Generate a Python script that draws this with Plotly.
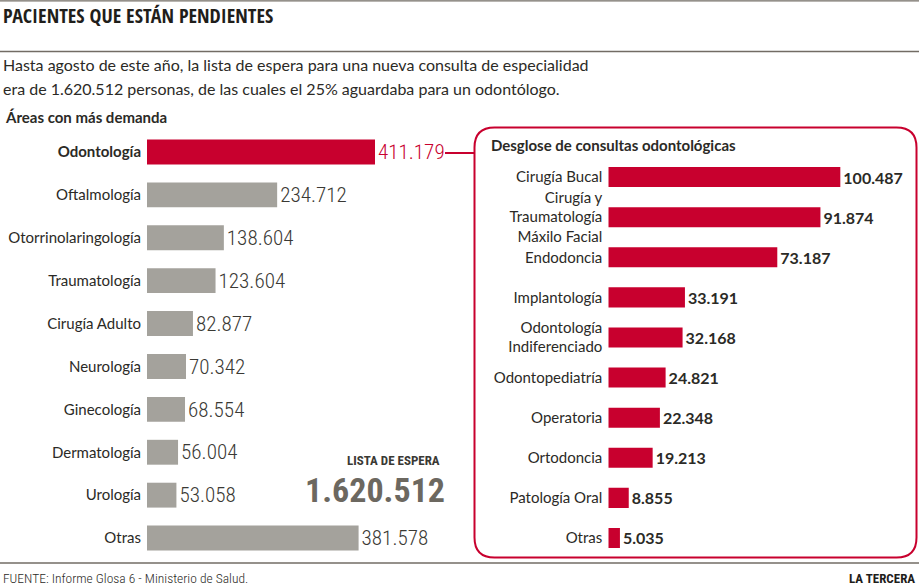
import plotly.graph_objects as go

# ---------------- data ----------------
areas = ["Odontología", "Oftalmología", "Otorrinolaringología", "Traumatología",
         "Cirugía Adulto", "Neurología", "Ginecología", "Dermatología", "Urología", "Otras"]
areas_values = [411179, 234712, 138604, 123604, 82877, 70342, 68554, 56004, 53058, 381578]

odonto_cats = ["Cirugía Bucal", "Cirugía y<br>Traumatología<br>Máxilo Facial", "Endodoncia",
               "Implantología", "Odontología<br>Indiferenciado", "Odontopediatría",
               "Operatoria", "Ortodoncia", "Patología Oral", "Otras"]
odonto_values = [100487, 91874, 73187, 33191, 32168, 24821, 22348, 19213, 8855, 5035]

total_espera = 1620512

# ---------------- style ----------------
W, H = 919, 587
RED = "#c8002e"
GRAY = "#a4a29c"
DARK = "#2b2a26"
LINE = "#726c64"
FONT = "Lato"
COND = "Roboto Condensed"


def fmt(v):
    return f"{v:,}".replace(",", ".")


def px(x):
    return x / W


def py(y):
    return 1 - y / H


fig = go.Figure()

left_colors = [RED] + [GRAY] * (len(areas) - 1)
left_text_colors = [RED] + ["#3a3934"] * (len(areas) - 1)
tick_left = [f"<b>{a}</b>" if i == 0 else a for i, a in enumerate(areas)]

fig.add_trace(go.Bar(
    y=list(range(len(areas))), x=areas_values, orientation="h",
    marker=dict(color=left_colors, line=dict(width=0)), width=0.58,
    text=[fmt(v) for v in areas_values], textposition="outside",
    textfont=dict(family=COND, size=28, color=left_text_colors, weight=300),
    cliponaxis=False, xaxis="x", yaxis="y", hoverinfo="skip",
))

fig.add_trace(go.Bar(
    y=list(range(len(odonto_cats))), x=odonto_values, orientation="h",
    marker=dict(color=RED, line=dict(width=0)), width=0.5,
    text=[fmt(v) for v in odonto_values], textposition="outside",
    textfont=dict(family=FONT, size=16, color=DARK, weight="bold"),
    cliponaxis=False, xaxis="x2", yaxis="y2", hoverinfo="skip",
))

fig.update_layout(
    width=W, height=H, margin=dict(l=0, r=0, t=0, b=0),
    paper_bgcolor="white", plot_bgcolor="rgba(0,0,0,0)",
    showlegend=False,
    font=dict(family=FONT, color=DARK),
    xaxis=dict(domain=[px(147), px(465)], range=[0, (465 - 147) / 0.0005545],
               visible=False, fixedrange=True),
    yaxis=dict(domain=[py(559.5), py(130.5)], range=[9.5, -0.5],
               tickvals=list(range(len(areas))), ticktext=tick_left,
               showgrid=False, zeroline=False, showline=False, ticks="",
               ticklabelstandoff=5, fixedrange=True,
               tickfont=dict(family=FONT, size=15, color=DARK)),
    xaxis2=dict(domain=[px(608.3), px(915)], range=[0, (915 - 608.3) / 0.002309],
                visible=False, anchor="y2", fixedrange=True),
    yaxis2=dict(domain=[py(558), py(157)], range=[9.5, -0.5], anchor="x2",
                tickvals=list(range(len(odonto_cats))), ticktext=odonto_cats,
                showgrid=False, zeroline=False, showline=False, ticks="",
                ticklabelstandoff=5, fixedrange=True,
                tickfont=dict(family=FONT, size=15, color=DARK)),
)

# ---------------- shapes ----------------
shapes = []
for yy in [0.8, 51.5, 563]:
    shapes.append(dict(type="line", xref="paper", yref="paper",
                       x0=0, x1=1, y0=py(yy), y1=py(yy),
                       line=dict(color=LINE, width=1.3)))

# rounded panel
x0, x1, y0, y1, r = 474.5, 916.5, 127.5, 557.5, 20
rx, ry = r / W, r / H
X0, X1, Y0, Y1 = px(x0), px(x1), py(y0), py(y1)
path = (f"M {X0 + rx},{Y0} L {X1 - rx},{Y0} Q {X1},{Y0} {X1},{Y0 - ry} "
        f"L {X1},{Y1 + ry} Q {X1},{Y1} {X1 - rx},{Y1} "
        f"L {X0 + rx},{Y1} Q {X0},{Y1} {X0},{Y1 + ry} "
        f"L {X0},{Y0 - ry} Q {X0},{Y0} {X0 + rx},{Y0} Z")
shapes.append(dict(type="path", xref="paper", yref="paper", path=path,
                   line=dict(color=RED, width=2)))
# connector
shapes.append(dict(type="line", xref="paper", yref="paper",
                   x0=px(445), x1=px(474.5), y0=py(153), y1=py(153),
                   line=dict(color=RED, width=2)))
fig.update_layout(shapes=shapes)

# ---------------- annotations ----------------
ann = []


def text(x, y, s, size, color=DARK, family=FONT, weight="normal", xanchor="left"):
    ann.append(dict(xref="paper", yref="paper", x=px(x), y=py(y), text=s,
                    showarrow=False, xanchor=xanchor, yanchor="middle",
                    font=dict(family=family, size=size, color=color, weight=weight)))


text(1, 15, "PACIENTES QUE ESTÁN PENDIENTES", 20, color="#1f1e1b",
     family="Open Sans Condensed", weight=700)
text(1, 65, "Hasta agosto de este año, la lista de espera para una nueva consulta de especialidad", 16)
text(1, 88, f"era de {fmt(total_espera)} personas, de las cuales el 25% aguardaba para un odontólogo.", 16)
text(3, 117, "<b>Áreas con más demanda</b>", 15)
text(489, 145, "<b>Desglose de consultas odontológicas</b>", 15)
text(442, 460, "LISTA DE ESPERA", 13, color="#3a3934", family=COND, weight=700, xanchor="right")
text(447, 490, fmt(total_espera), 34, color="#6c6860", family=COND, weight=700, xanchor="right")
text(1, 578, "FUENTE: Informe Glosa 6 - Ministerio de Salud.", 13.5, color=DARK, family=COND, weight=300)
text(917, 578, "LA TERCERA", 13, color="#1f1e1b", family=COND, weight=700, xanchor="right")

fig.update_layout(annotations=ann)

fig.write_html("out.html", post_script="document.body.style.margin='0';",
               config={"displayModeBar": False})
